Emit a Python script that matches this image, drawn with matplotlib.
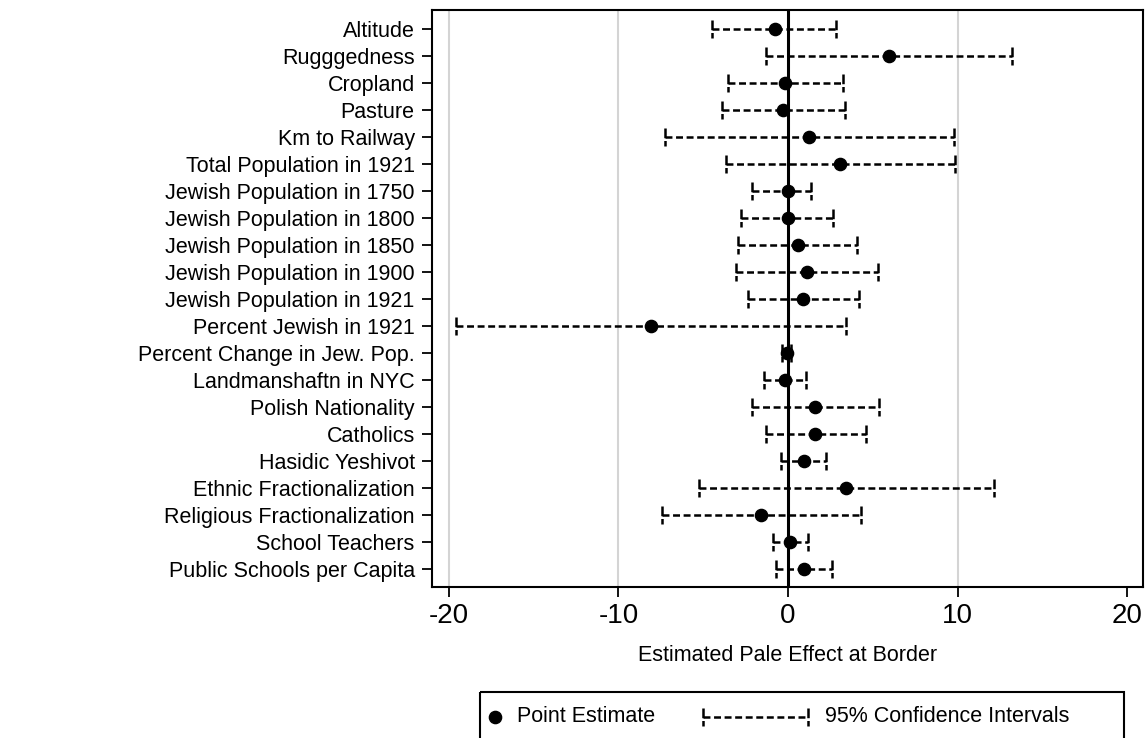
import matplotlib
matplotlib.use("Agg")
import matplotlib.pyplot as plt
from matplotlib.lines import Line2D
from matplotlib.patches import Rectangle
from matplotlib.transforms import Affine2D
import numpy as np

plt.rcParams['font.family'] = ['Liberation Sans', 'DejaVu Sans']
plt.rcParams['lines.scale_dashes'] = False

labels = ["Altitude", "Rugggedness", "Cropland", "Pasture", "Km to Railway",
          "Total Population in 1921", "Jewish Population in 1750",
          "Jewish Population in 1800", "Jewish Population in 1850",
          "Jewish Population in 1900", "Jewish Population in 1921",
          "Percent Jewish in 1921", "Percent Change in Jew. Pop.",
          "Landmanshaftn in NYC", "Polish Nationality", "Catholics",
          "Hasidic Yeshivot", "Ethnic Fractionalization",
          "Religious Fractionalization", "School Teachers",
          "Public Schools per Capita"]
point = [-0.79, 5.93, -0.16, -0.32, 1.26, 3.09, -0.02, 0.00, 0.56, 1.13, 0.90,
         -8.09, -0.07, -0.18, 1.60, 1.62, 0.95, 3.45, -1.58, 0.11, 0.95]
lower = [-4.46, -1.31, -3.56, -3.90, -7.26, -3.65, -2.14, -2.75, -2.93, -3.04,
         -2.37, -19.57, -0.34, -1.42, -2.14, -1.31, -0.41, -5.25, -7.46, -0.90,
         -0.72]
upper = [2.86, 13.21, 3.27, 3.34, 9.81, 9.85, 1.35, 2.64, 4.08, 5.30, 4.19,
         3.40, 0.20, 1.06, 5.34, 4.58, 2.25, 12.15, 4.33, 1.20, 2.59]
xticks = [-20, -10, 0, 10, 20]
grid_at = [-20, -10, 10]

W, H = 1145, 738
fig = plt.figure(figsize=(W / 100, H / 100), dpi=100)
ax = fig.add_axes([432 / W, 1 - 586.7 / H, (1143 - 432) / W, (586.7 - 10.3) / H])

y = np.arange(len(labels))
dash = (0, (5.0, 2.6))
capdash = (0, (7.0, 2.0))
caph = 0.34

for g in grid_at:
    ax.axvline(g, color='#d4d4d4', lw=1.5, zorder=0)
ax.axvline(0, color='black', lw=2.2, zorder=1)

ax.hlines(y, lower, upper, colors='black', linestyles=[dash], lw=1.8, zorder=2)
ax.vlines(lower, y - caph, y + caph, colors='black', linestyles=[capdash], lw=1.8, zorder=2)
ax.vlines(upper, y - caph, y + caph, colors='black', linestyles=[capdash], lw=1.8, zorder=2)
ax.plot(point, y, 'o', color='black', ms=8.8, zorder=3)

ax.set_xlim(-21.0, 20.94)
ax.set_ylim(len(labels) - 1 + 0.644, -0.704)
ax.set_yticks(y)
ax.set_yticklabels(labels, fontsize=15.5)
ax.set_xticks(xticks)
ax.set_xticklabels([str(v) for v in xticks], fontsize=20)
ax.tick_params(axis='y', length=7.5, width=1.3, pad=5)
ax.tick_params(axis='x', length=7.5, width=1.3, pad=4)
for s in ax.spines.values():
    s.set_linewidth(1.5)
ax.set_xlabel("Estimated Pale Effect at Border", fontsize=15.5, labelpad=12)

# legend (drawn in pixel coordinates, box runs past the bottom edge)
T = Affine2D().scale(1, -1).translate(0, H)
fig.add_artist(Rectangle((480, 691.7), 644, 80, transform=T, fill=False,
                         edgecolor='black', lw=1.5, clip_on=False))
ly = 716.7
fig.add_artist(Line2D([495], [ly], marker='o', ms=8.8, color='black', transform=T))
fig.text(517, H - ly, "Point Estimate", fontsize=15.5, va='center', ha='left',
         transform=Affine2D())
fig.add_artist(Line2D([703, 808], [ly, ly], color='black', lw=1.8, linestyle=dash, transform=T))
for cx in (703, 808):
    fig.add_artist(Line2D([cx, cx], [ly - 9, ly + 9], color='black', lw=1.8,
                          linestyle=capdash, transform=T))
fig.text(825, H - ly, "95% Confidence Intervals", fontsize=15.5, va='center',
         ha='left', transform=Affine2D())

fig.savefig("out.png", dpi=100)
